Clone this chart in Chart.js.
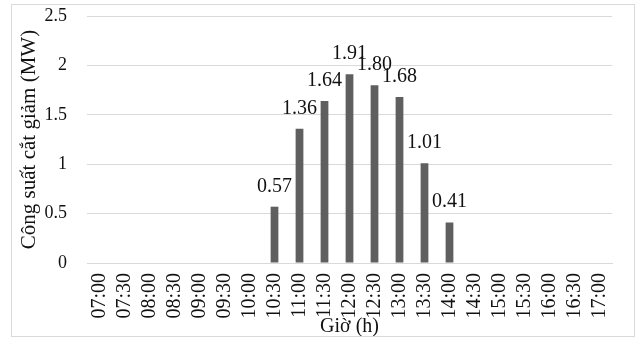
<!DOCTYPE html>
<html>
<head>
<meta charset="utf-8">
<script src="https://cdn.jsdelivr.net/npm/chart.js@4/dist/chart.umd.min.js"></script>
<style>
  html, body { margin: 0; padding: 0; background: #fff; }
  #wrap { position: relative; width: 639px; height: 346px; }
  #frame { position: absolute; left: 11px; top: 4px; width: 622px; height: 331px; border: 1px solid #d9d9d9; pointer-events: none; }
  canvas { position: absolute; left: 0; top: 0; }
</style>
</head>
<body>
<div id="wrap">
  <canvas id="c" width="639" height="346"></canvas>
  <div id="frame"></div>
</div>
<script>
const categories = ["07:00","07:30","08:00","08:30","09:00","09:30","10:00","10:30","11:00","11:30","12:00","12:30","13:00","13:30","14:00","14:30","15:00","15:30","16:00","16:30","17:00"];
const values = [0,0,0,0,0,0,0,0.57,1.36,1.64,1.91,1.80,1.68,1.01,0.41,0,0,0,0,0,0];
const yTicks = [0, 0.5, 1, 1.5, 2, 2.5];
const yTitle = "Công suất cắt giảm (MW)";
const xTitle = "Giờ (h)";

const FONT = "'Liberation Serif', 'Times New Roman', serif";

const labelPlugin = {
  id: 'barLabels',
  afterDatasetsDraw(chart) {
    const ctx = chart.ctx;
    const meta = chart.getDatasetMeta(0);
    ctx.save();
    ctx.font = "20px " + FONT;
    ctx.fillStyle = "#111";
    ctx.textAlign = "center";
    ctx.textBaseline = "alphabetic";
    meta.data.forEach((bar, i) => {
      const v = values[i];
      if (!v) return;
      ctx.fillText(v.toFixed(2), bar.x, bar.y - 15);
    });
    ctx.restore();
  }
};

new Chart(document.getElementById('c'), {
  type: 'bar',
  data: {
    labels: categories,
    datasets: [{
      data: values,
      backgroundColor: '#5f5f5f',
      borderWidth: 0,
      categoryPercentage: 1,
      barPercentage: 0.31
    }]
  },
  options: {
    responsive: false,
    animation: false,
    devicePixelRatio: 1,
    layout: { padding: { left: 12, right: 27, top: 16, bottom: 4 } },
    plugins: { legend: { display: false }, tooltip: { enabled: false } },
    scales: {
      x: {
        grid: { display: false, drawTicks: false },
        border: { display: true, color: '#d9d9d9', width: 1 },
        ticks: {
          autoSkip: false, minRotation: 90, maxRotation: 90,
          padding: 10, color: '#111',
          font: { family: FONT, size: 20 }
        },
        title: { display: true, text: xTitle, color: '#111', font: { family: FONT, size: 20 }, padding: { top: 0, bottom: 3 } },
        afterFit(scale) { scale.height = 79; }
      },
      y: {
        min: 0, max: 2.5,
        afterBuildTicks(scale) { scale.ticks = yTicks.map(v => ({ value: v })); },
        grid: { color: '#d9d9d9', drawTicks: false, lineWidth: 1 },
        border: { display: false },
        ticks: {
          padding: 20, color: '#111',
          font: { family: FONT, size: 18 },
          callback: (v) => String(v)
        },
        title: { display: true, text: yTitle, color: '#111', font: { family: FONT, size: 21 }, padding: { top: 5, bottom: 0 } },
        afterFit(scale) { scale.width = 75; scale.paddingTop = 0; scale.paddingBottom = 0; }
      }
    }
  },
  plugins: [labelPlugin]
});
</script>
</body>
</html>
